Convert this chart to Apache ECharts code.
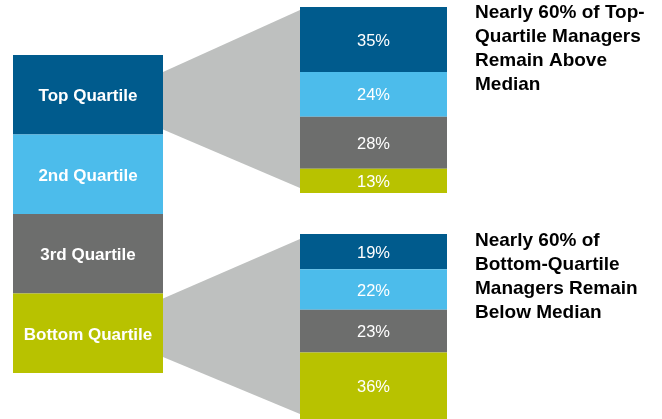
<!DOCTYPE html>
<html><head><meta charset="utf-8">
<script src="https://cdn.jsdelivr.net/npm/echarts@6/dist/echarts.min.js"></script>
<style>html,body{margin:0;padding:0;background:#fff}#c{width:662px;height:419px}</style>
</head><body><div id="c"></div>
<script>
const quartiles = ['Top Quartile', '2nd Quartile', '3rd Quartile', 'Bottom Quartile'];
const quartileShare = [25, 25, 25, 25];
const topQuartileOutcome = [35, 24, 28, 13];
const bottomQuartileOutcome = [19, 22, 23, 36];
const notes = [
  'Nearly 60% of Top-\nQuartile Managers\nRemain Above\nMedian',
  'Nearly 60% of\nBottom-Quartile\nManagers Remain\nBelow Median'
];

const colors = ['#005B8D', '#4CBCEB', '#6D6E6D', '#B8C200'];
const FONT = '"Liberation Sans", Arial, sans-serif';
const grids = [
  { left: 13, top: 55, width: 150, height: 318 },
  { left: 300, top: 7, width: 147, height: 186 },
  { left: 300, top: 234, width: 147, height: 186 }
];
const datasets = [quartileShare, topQuartileOutcome, bottomQuartileOutcome];

const chart = echarts.init(document.getElementById('c'), null, { renderer: 'canvas' });
const series = [];
datasets.forEach((vals, g) => {
  vals.forEach((v, i) => {
    series.push({
      type: 'bar', xAxisIndex: g, yAxisIndex: g, stack: 's' + g,
      barWidth: '100%', data: [v], z: 2,
      itemStyle: { color: colors[i] },
      silent: true,
      label: {
        show: true, position: 'inside', color: '#fff', fontFamily: FONT,
        fontSize: g === 0 ? 17 : 16.5, fontWeight: g === 0 ? 'bold' : 'normal',
        offset: [0, g === 0 ? 2 : 1.5],
        formatter: g === 0 ? quartiles[i] : '{c}%'
      }
    });
  });
});
chart.setOption({
  animation: false,
  grid: grids.map(r => Object.assign({ containLabel: false }, r)),
  xAxis: grids.map((r, g) => ({ type: 'category', gridIndex: g, data: ['x'], show: false, boundaryGap: true })),
  yAxis: grids.map((r, g) => ({ type: 'value', gridIndex: g, min: 0, max: 100, inverse: true, show: false })),
  series: series
});

function py(g, v) { return chart.convertToPixel({ yAxisIndex: g }, v); }
const leftX = grids[0].left + grids[0].width;
const rightX = grids[1].left;
const topPoly = [
  [leftX, py(0, 0) + 17], [rightX, py(1, 0) + 3],
  [rightX, py(1, 100) - 5], [leftX, py(0, quartileShare[0]) - 5]
];
const botStart = quartileShare[0] + quartileShare[1] + quartileShare[2];
const botPoly = [
  [leftX, py(0, botStart) + 5], [rightX, py(2, 0) + 5],
  [rightX, py(2, 100) - 5], [leftX, py(0, 100) - 16]
];
chart.setOption({
  graphic: [
    { type: 'polygon', z: 0, shape: { points: topPoly }, style: { fill: '#BEC0BF' }, silent: true },
    { type: 'polygon', z: 0, shape: { points: botPoly }, style: { fill: '#BEC0BF' }, silent: true },
    { type: 'text', z: 5, left: 475, top: 1, style: { text: notes[0], fill: '#000', font: 'bold 19px ' + FONT, lineHeight: 24 } },
    { type: 'text', z: 5, left: 475, top: 229, style: { text: notes[1], fill: '#000', font: 'bold 19px ' + FONT, lineHeight: 24 } }
  ]
});
</script>
</body></html>
